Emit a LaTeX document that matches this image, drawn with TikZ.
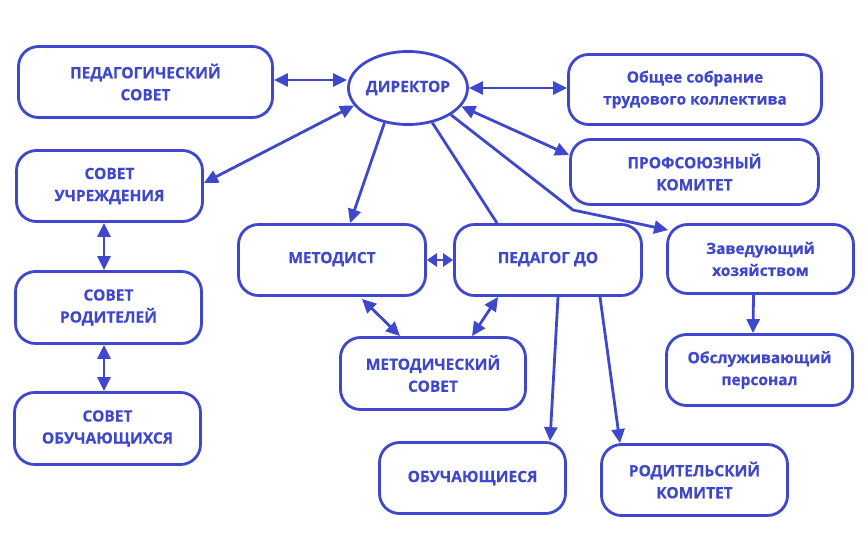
\documentclass[tikz,border=0pt]{standalone}
\usepackage{fontspec}
\setmainfont{Open Sans}[BoldFeatures={FakeBold=0.5}]
\usetikzlibrary{arrows.meta,shapes.geometric}
\definecolor{bl}{RGB}{63,72,204}
\begin{document}
\begin{tikzpicture}[x=1pt,y=-1pt,
  every node/.style={text=bl, font=\bfseries\fontsize{15.5}{22}\selectfont, align=center, inner sep=0pt},
  box/.style={draw=bl, line width=2.8pt, rounded corners=20pt, minimum height=71pt},
  tri/.tip={Triangle[length=14pt,width=13pt]},
  stri/.tip={Triangle[length=10pt,width=13pt]},
  conn/.style={draw=bl, line width=2.8pt},
  arr/.style={conn, -tri},
  darr/.style={conn, tri-tri}]
\useasboundingbox (0,0) rectangle (868,554);
% nodes
\node[box, minimum width=254pt] (ps) at (145.5,82) {ПЕДАГОГИЧЕСКИЙ\\СОВЕТ};
\node[draw=bl, line width=2.8pt, ellipse, minimum width=111pt, minimum height=73pt] (dir) at (408,88) {ДИРЕКТОР};
\node[box, minimum width=253pt, minimum height=70pt] (obs) at (695,89.5) {Общее собрание\\трудового коллектива};
\node[box, minimum width=248pt, minimum height=65pt] (prof) at (694.5,172) {ПРОФСОЮЗНЫЙ\\КОМИТЕТ};
\node[box, minimum width=186pt, minimum height=69pt] (zav) at (760.5,259) {Заведующий\\хозяйством};
\node[box, minimum width=186pt] (su) at (109.5,186) {СОВЕТ\\УЧРЕЖДЕНИЯ};
\node[box, minimum width=186pt, minimum height=72pt] (sr) at (108.5,307.5) {СОВЕТ\\РОДИТЕЛЕЙ};
\node[box, minimum width=186pt, minimum height=72pt] (so) at (107.5,428.5) {СОВЕТ\\ОБУЧАЮЩИХСЯ};
\node[box, minimum width=187pt] (met) at (332,260) {\raisebox{5pt}{МЕТОДИСТ}};
\node[box, minimum width=187pt] (ped) at (548,260) {\raisebox{5pt}{ПЕДАГОГ ДО}};
\node[box, minimum width=185pt, minimum height=72pt] (ms) at (433,373.5) {МЕТОДИЧЕСКИЙ\\СОВЕТ};
\node[box, minimum width=186pt] (obu) at (472.5,478) {\raisebox{3pt}{ОБУЧАЮЩИЕСЯ}};
\node[box, minimum width=186pt] (rod) at (694.5,480) {РОДИТЕЛЬСКИЙ\\КОМИТЕТ};
\node[box, minimum width=186pt] (obsl) at (759.5,370) {Обслуживающий\\персонал};
\coordinate (bend) at (573,210);
% connectors
\draw[darr] ([yshift=2pt]ps.east) -- ([yshift=2pt]ps.east -| dir.west);
\draw[darr] (dir.east) -- (dir.east -| obs.west);
\draw[darr] (dir.198) -- ([yshift=3pt]su.east);
\draw[arr] (dir.236) -- ([xshift=18pt]met.north);
\draw[conn] (dir.305) -- ([xshift=-51pt]ped.north);
\draw[darr] (dir.341) -- ([yshift=17pt]prof.west);
\draw[arr] (dir.328) -- (bend) -- ([xshift=2pt,yshift=29pt]zav.west);
\draw[conn, stri-stri] (met.east) -- (ped.west);
\draw[darr] ([xshift=30pt,yshift=-2pt]met.south) -- ([xshift=-33pt]ms.north);
\draw[darr] ([xshift=-50pt]ped.south) -- ([xshift=39pt]ms.north);
\draw[arr] ([xshift=10pt]ped.south) -- ([xshift=77.5pt]obu.north);
\draw[arr] ([xshift=52pt]ped.south) -- ([xshift=-74.5pt]rod.north);
\draw[arr] ([xshift=-7pt]zav.south) -- ([xshift=-6.5pt]obsl.north);
\draw[darr] ([xshift=-5.5pt]su.south) -- ([xshift=-4.5pt]sr.north);
\draw[darr] ([xshift=-4.5pt]sr.south) -- ([xshift=-3.5pt]so.north);
\end{tikzpicture}
\end{document}
